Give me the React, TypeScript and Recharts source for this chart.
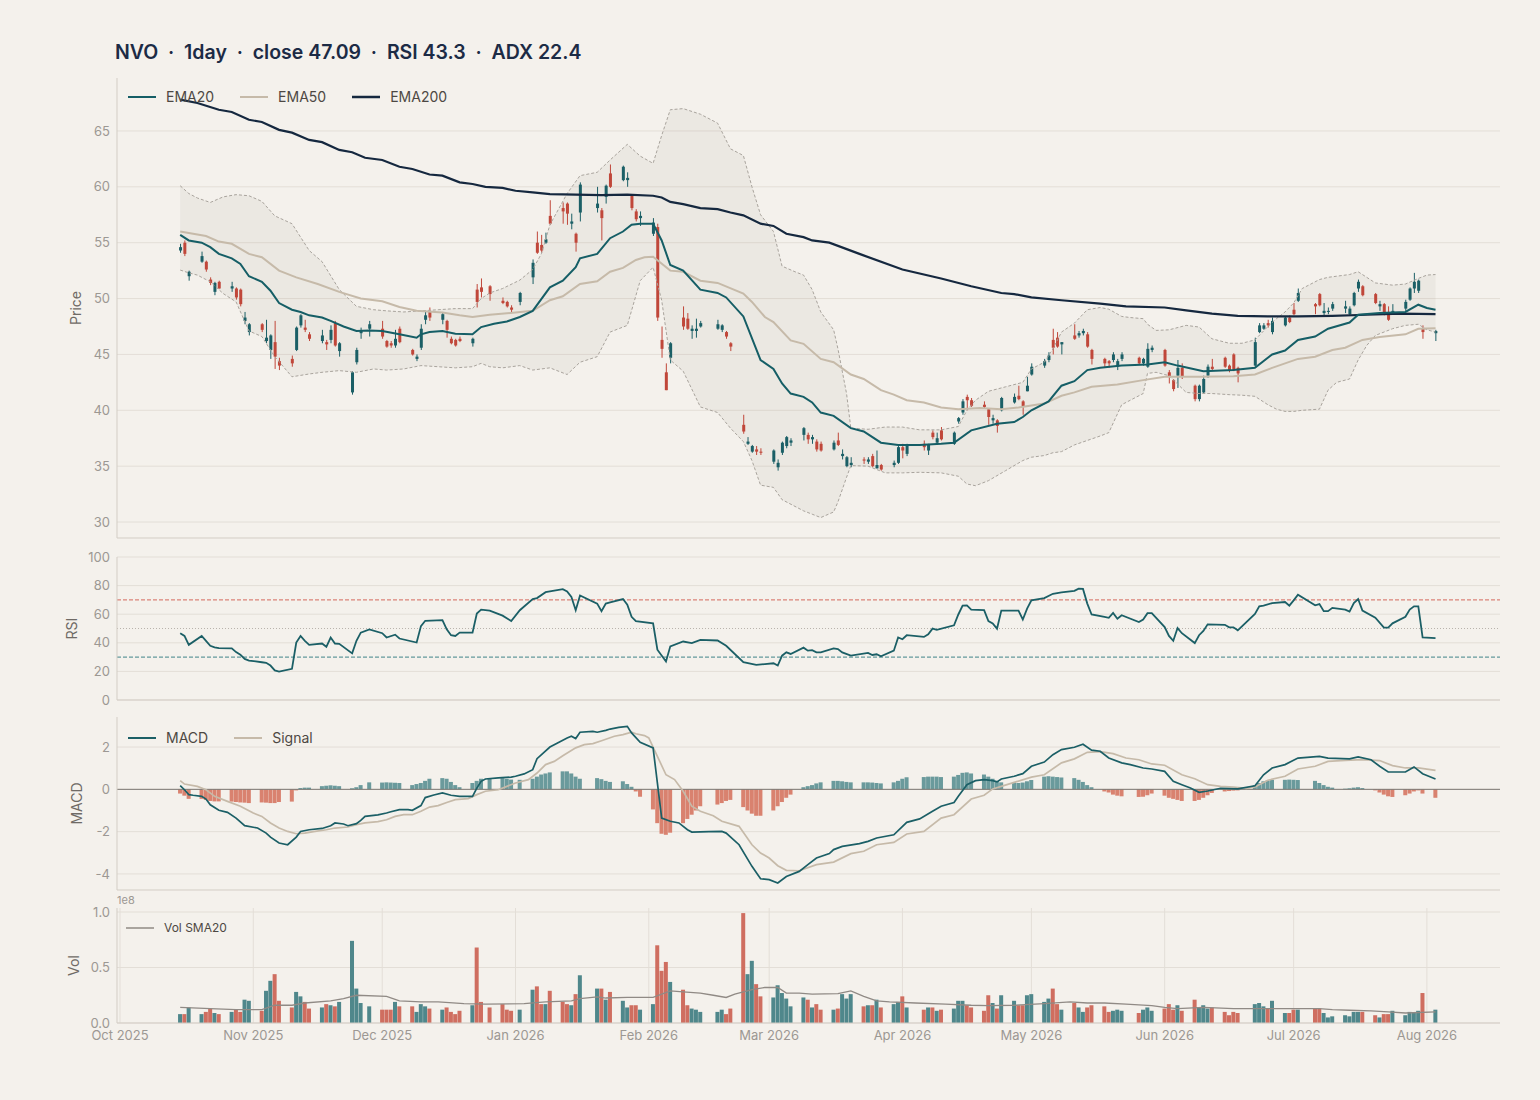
import React from "react";
import {
  ComposedChart,
  Bar,
  Line,
  Area,
  XAxis,
  YAxis,
  CartesianGrid,
  ReferenceLine,
} from "recharts";

// ---- colours ----
const BG = "#f4f1ec";
const GRID = "#e3ded7";
const SPINE = "#d3cdc5";
const TICK = "#9c9893";
const UP = "#1b5f66";
const DOWN = "#c0473a";
const EMA20_C = "#155e66";
const EMA50_C = "#c6baa9";
const EMA200_C = "#15283f";
const FONT = "Inter, 'DejaVu Sans', sans-serif";

// ---- time axis (days since 2025-10-01) ----
const BASE = Date.UTC(2025, 9, 1);
const dayOf = (s: string) =>
  Math.round((Date.UTC(+s.slice(0, 4), +s.slice(5, 7) - 1, +s.slice(8, 10)) - BASE) / 86400000);
const monthDates = [
  "2025-10-01", "2025-11-01", "2025-12-01", "2026-01-01", "2026-02-01", "2026-03-01",
  "2026-04-01", "2026-05-01", "2026-06-01", "2026-07-01", "2026-08-01",
];
const monthLabels = [
  "Oct 2025", "Nov 2025", "Dec 2025", "Jan 2026", "Feb 2026", "Mar 2026",
  "Apr 2026", "May 2026", "Jun 2026", "Jul 2026", "Aug 2026",
];
const monthDays = monthDates.map(dayOf);
const X_DOMAIN = [-0.7, 321];

// ---- y ticks ----
const priceTicks = [30, 35, 40, 45, 50, 55, 60, 65];
const rsiTicks = [0, 20, 40, 60, 80, 100];
const macdTicks = [-4, -2, 0, 2];
const volTicks = [0, 0.5, 1];

// ---- daily candles: date, open, high, low, close ----
const candles: [string, number, number, number, number][] = [
  ["2025-10-15", 54.3, 54.9, 54.1, 54.6], ["2025-10-16", 55.0, 55.2, 53.8, 54.0],
  ["2025-10-17", 52.0, 52.5, 51.6, 52.4], ["2025-10-20", 53.3, 54.2, 53.2, 53.8],
  ["2025-10-21", 53.3, 53.4, 52.4, 52.6], ["2025-10-22", 51.7, 51.9, 51.2, 51.4],
  ["2025-10-23", 50.6, 51.5, 50.3, 51.4], ["2025-10-24", 51.5, 51.6, 50.9, 50.9],
  ["2025-10-27", 50.9, 51.5, 50.6, 51.1], ["2025-10-28", 50.9, 51.0, 49.9, 50.1],
  ["2025-10-29", 50.8, 50.9, 49.3, 49.5], ["2025-10-30", 48.0, 48.8, 47.7, 48.3],
  ["2025-10-31", 47.0, 47.8, 46.7, 47.7], ["2025-11-03", 47.7, 47.8, 47.0, 47.2],
  ["2025-11-04", 46.2, 48.1, 46.0, 46.5], ["2025-11-05", 45.4, 46.8, 44.6, 46.7],
  ["2025-11-06", 46.1, 48.0, 43.7, 44.8], ["2025-11-07", 44.4, 44.7, 43.6, 44.0],
  ["2025-11-10", 44.6, 44.9, 43.9, 44.2], ["2025-11-11", 45.4, 47.5, 45.3, 47.4],
  ["2025-11-12", 47.6, 48.6, 47.4, 48.5], ["2025-11-13", 47.4, 48.1, 47.0, 47.2],
  ["2025-11-14", 46.8, 47.0, 46.2, 46.4], ["2025-11-17", 46.2, 47.2, 46.0, 46.7],
  ["2025-11-18", 46.1, 46.3, 45.4, 45.9], ["2025-11-19", 46.3, 47.6, 46.0, 47.2],
  ["2025-11-20", 47.8, 48.0, 45.7, 45.8], ["2025-11-21", 45.3, 46.1, 44.8, 46.0],
  ["2025-11-24", 41.6, 43.5, 41.4, 43.4], ["2025-11-25", 44.3, 45.6, 44.1, 45.4],
  ["2025-11-26", 46.9, 47.4, 46.4, 47.1], ["2025-11-28", 47.3, 48.0, 46.6, 47.7],
  ["2025-12-01", 47.3, 48.0, 46.4, 46.6], ["2025-12-02", 46.2, 46.3, 45.6, 45.7],
  ["2025-12-03", 46.0, 46.2, 45.6, 45.8], ["2025-12-04", 45.8, 47.2, 45.6, 46.4],
  ["2025-12-05", 47.3, 47.5, 46.0, 46.1], ["2025-12-08", 45.4, 45.5, 44.9, 45.0],
  ["2025-12-09", 44.6, 45.0, 44.4, 44.8], ["2025-12-10", 45.6, 47.7, 45.4, 47.3],
  ["2025-12-11", 48.1, 48.8, 47.7, 48.5], ["2025-12-12", 48.8, 49.2, 48.0, 48.3],
  ["2025-12-15", 48.1, 48.8, 47.7, 48.6], ["2025-12-16", 48.0, 48.1, 46.5, 47.2],
  ["2025-12-17", 46.4, 46.6, 45.9, 46.0], ["2025-12-18", 46.3, 46.4, 45.7, 45.8],
  ["2025-12-19", 46.4, 46.6, 46.1, 46.2], ["2025-12-22", 46.0, 46.5, 45.7, 46.4],
  ["2025-12-23", 50.8, 51.3, 49.2, 49.7], ["2025-12-24", 51.0, 51.8, 50.1, 50.6],
  ["2025-12-26", 51.1, 51.2, 49.8, 50.4], ["2025-12-29", 49.8, 50.1, 49.5, 49.6],
  ["2025-12-30", 49.7, 49.8, 49.2, 49.3], ["2025-12-31", 49.2, 49.4, 48.7, 49.0],
  ["2026-01-02", 49.7, 50.6, 49.4, 50.5], ["2026-01-05", 51.9, 53.5, 51.3, 53.2],
  ["2026-01-06", 55.0, 56.0, 54.0, 54.1], ["2026-01-07", 54.8, 55.7, 54.1, 54.3],
  ["2026-01-08", 55.0, 55.9, 54.9, 55.3], ["2026-01-09", 57.4, 58.8, 56.6, 56.7],
  ["2026-01-12", 58.1, 58.6, 56.7, 57.8], ["2026-01-13", 58.5, 58.6, 56.6, 57.6],
  ["2026-01-14", 56.7, 57.6, 56.2, 56.9], ["2026-01-15", 55.8, 55.9, 54.2, 55.0],
  ["2026-01-16", 57.7, 60.4, 56.9, 60.2], ["2026-01-20", 58.1, 60.0, 57.7, 58.5],
  ["2026-01-21", 57.9, 58.1, 55.2, 57.2], ["2026-01-22", 59.1, 60.2, 58.5, 60.1],
  ["2026-01-23", 61.2, 62.0, 59.9, 60.0], ["2026-01-26", 60.6, 61.9, 60.5, 61.8],
  ["2026-01-27", 60.6, 61.3, 60.0, 60.8], ["2026-01-28", 59.2, 59.3, 57.9, 58.1],
  ["2026-01-29", 57.8, 58.0, 56.9, 57.1], ["2026-01-30", 57.2, 57.8, 56.5, 57.4],
  ["2026-02-02", 55.8, 57.2, 55.6, 56.8], ["2026-02-03", 56.4, 56.7, 48.0, 48.3],
  ["2026-02-04", 46.3, 47.5, 44.7, 45.5], ["2026-02-05", 43.4, 44.2, 41.8, 41.8],
  ["2026-02-06", 44.7, 46.1, 44.2, 46.0], ["2026-02-09", 48.3, 49.3, 47.2, 47.5],
  ["2026-02-10", 48.2, 48.7, 47.2, 47.3], ["2026-02-11", 47.1, 47.6, 46.4, 47.3],
  ["2026-02-12", 47.1, 48.2, 46.5, 47.3], ["2026-02-13", 47.5, 48.0, 47.4, 47.8],
  ["2026-02-17", 47.3, 48.1, 47.2, 47.7], ["2026-02-18", 47.2, 47.7, 47.0, 47.6],
  ["2026-02-19", 47.0, 47.1, 46.4, 46.6], ["2026-02-20", 46.0, 46.1, 45.3, 45.7],
  ["2026-02-23", 38.7, 39.6, 37.9, 38.1], ["2026-02-24", 37.0, 37.6, 36.9, 37.2],
  ["2026-02-25", 36.3, 36.9, 36.2, 36.8], ["2026-02-26", 36.5, 36.8, 36.0, 36.3],
  ["2026-02-27", 36.3, 36.6, 36.0, 36.2], ["2026-03-02", 35.4, 36.5, 35.2, 36.4],
  ["2026-03-03", 34.9, 35.6, 34.6, 35.3], ["2026-03-04", 36.2, 37.2, 36.0, 37.1],
  ["2026-03-05", 36.8, 37.7, 36.6, 37.6], ["2026-03-06", 37.1, 37.5, 36.8, 37.3],
  ["2026-03-09", 37.8, 38.5, 37.3, 38.4], ["2026-03-10", 37.8, 38.0, 37.0, 37.4],
  ["2026-03-11", 37.4, 37.8, 37.0, 37.6], ["2026-03-12", 37.2, 37.4, 36.3, 36.5],
  ["2026-03-13", 37.0, 37.2, 36.3, 36.4], ["2026-03-16", 36.5, 37.3, 36.4, 37.1],
  ["2026-03-17", 37.3, 38.0, 36.8, 36.9], ["2026-03-18", 35.9, 36.5, 35.6, 36.1],
  ["2026-03-19", 35.0, 35.9, 34.9, 35.8], ["2026-03-20", 35.1, 35.8, 34.9, 35.3],
  ["2026-03-23", 35.6, 35.8, 35.2, 35.5], ["2026-03-24", 35.4, 35.8, 35.2, 35.6],
  ["2026-03-25", 35.9, 36.1, 34.9, 35.0], ["2026-03-26", 34.8, 36.4, 34.8, 35.1],
  ["2026-03-27", 35.1, 35.2, 34.6, 34.7], ["2026-03-30", 35.1, 35.5, 34.9, 35.3],
  ["2026-03-31", 35.3, 36.8, 35.2, 36.7], ["2026-04-01", 36.7, 37.0, 35.7, 36.4],
  ["2026-04-02", 36.1, 37.0, 35.9, 36.9], ["2026-04-06", 37.0, 37.3, 36.4, 36.7],
  ["2026-04-07", 36.4, 37.0, 36.0, 36.9], ["2026-04-08", 38.0, 38.2, 37.4, 37.6],
  ["2026-04-09", 37.1, 38.0, 36.9, 37.5], ["2026-04-10", 38.2, 38.5, 37.3, 37.4],
  ["2026-04-13", 37.0, 38.1, 36.9, 38.0], ["2026-04-14", 39.0, 39.4, 38.8, 39.3],
  ["2026-04-15", 39.8, 41.0, 39.6, 40.8], ["2026-04-16", 41.2, 41.4, 40.0, 40.9],
  ["2026-04-17", 40.9, 41.1, 40.3, 40.4], ["2026-04-20", 40.5, 40.8, 40.2, 40.3],
  ["2026-04-21", 40.1, 40.2, 38.7, 39.4], ["2026-04-22", 39.1, 39.6, 38.8, 39.3],
  ["2026-04-23", 39.1, 39.2, 38.0, 38.6], ["2026-04-24", 40.0, 41.2, 39.9, 41.1],
  ["2026-04-27", 40.7, 41.5, 40.6, 41.2], ["2026-04-28", 41.3, 42.2, 40.9, 41.0],
  ["2026-04-29", 40.8, 40.9, 39.6, 40.3], ["2026-04-30", 41.7, 43.0, 41.7, 42.2],
  ["2026-05-01", 43.2, 44.2, 43.1, 43.9], ["2026-05-04", 44.0, 44.6, 43.8, 44.4],
  ["2026-05-05", 44.5, 45.2, 44.3, 44.9], ["2026-05-06", 46.3, 47.3, 45.0, 45.6],
  ["2026-05-07", 46.5, 47.0, 45.6, 45.7], ["2026-05-08", 45.9, 46.1, 45.0, 46.1],
  ["2026-05-11", 46.7, 47.7, 46.3, 46.4], ["2026-05-12", 46.7, 47.1, 46.5, 46.9],
  ["2026-05-13", 46.9, 47.3, 46.7, 47.1], ["2026-05-14", 46.8, 47.0, 45.6, 45.7],
  ["2026-05-15", 45.4, 45.5, 44.1, 44.6], ["2026-05-18", 44.6, 44.7, 43.8, 44.2],
  ["2026-05-19", 44.4, 44.5, 43.8, 44.2], ["2026-05-20", 44.5, 45.2, 44.3, 45.0],
  ["2026-05-21", 43.9, 44.6, 43.6, 44.4], ["2026-05-22", 44.6, 45.2, 44.4, 45.0],
  ["2026-05-26", 44.7, 44.8, 44.1, 44.2], ["2026-05-27", 44.2, 44.7, 44.0, 44.6],
  ["2026-05-28", 43.9, 46.0, 43.8, 45.5], ["2026-05-29", 45.4, 45.8, 45.2, 45.6],
  ["2026-06-01", 45.4, 45.5, 43.9, 44.0], ["2026-06-02", 43.4, 43.6, 42.4, 43.0],
  ["2026-06-03", 42.7, 42.8, 41.7, 41.9], ["2026-06-04", 43.1, 44.5, 42.0, 43.8],
  ["2026-06-05", 43.8, 44.2, 42.8, 43.0], ["2026-06-08", 42.2, 42.3, 40.8, 41.0],
  ["2026-06-09", 41.0, 42.3, 40.8, 42.2], ["2026-06-10", 41.6, 43.1, 41.5, 42.8],
  ["2026-06-11", 43.1, 44.1, 42.9, 43.9], ["2026-06-12", 43.9, 44.6, 43.6, 43.7],
  ["2026-06-15", 44.7, 44.8, 43.8, 43.9], ["2026-06-16", 44.0, 44.1, 43.4, 43.6],
  ["2026-06-17", 45.0, 45.1, 43.5, 43.6], ["2026-06-18", 43.8, 43.9, 42.5, 43.3],
  ["2026-06-22", 44.0, 46.5, 43.9, 46.1], ["2026-06-23", 47.0, 47.8, 46.9, 47.6],
  ["2026-06-24", 47.3, 47.8, 47.2, 47.6], ["2026-06-25", 47.8, 48.1, 47.4, 47.6],
  ["2026-06-26", 47.0, 48.3, 46.8, 48.0], ["2026-06-29", 47.6, 48.4, 47.5, 48.3],
  ["2026-06-30", 48.3, 48.5, 47.8, 47.9], ["2026-07-01", 49.0, 49.6, 48.5, 48.6],
  ["2026-07-02", 49.8, 50.9, 49.7, 50.5], ["2026-07-06", 49.5, 49.6, 48.6, 49.3],
  ["2026-07-07", 50.4, 50.5, 49.3, 49.4], ["2026-07-08", 48.7, 49.6, 48.4, 48.9],
  ["2026-07-09", 48.8, 49.2, 48.6, 48.9], ["2026-07-10", 49.1, 49.7, 48.9, 49.5],
  ["2026-07-13", 49.1, 49.8, 48.7, 49.3], ["2026-07-14", 48.6, 49.3, 48.5, 49.1],
  ["2026-07-15", 49.4, 50.6, 49.3, 50.5], ["2026-07-16", 50.9, 51.7, 50.6, 51.5],
  ["2026-07-17", 51.1, 51.2, 50.2, 50.3], ["2026-07-20", 50.4, 50.5, 49.5, 49.6],
  ["2026-07-21", 49.3, 49.8, 48.9, 49.5], ["2026-07-22", 49.5, 49.6, 48.5, 48.7],
  ["2026-07-23", 48.7, 49.3, 48.0, 48.1], ["2026-07-24", 48.7, 49.5, 48.6, 48.9],
  ["2026-07-27", 49.1, 49.9, 48.9, 49.7], ["2026-07-28", 49.9, 51.0, 49.8, 50.9],
  ["2026-07-29", 50.9, 52.3, 50.5, 51.5], ["2026-07-30", 50.7, 51.7, 50.5, 51.6],
  ["2026-07-31", 47.3, 47.6, 46.4, 47.0], ["2026-08-03", 46.9, 47.2, 46.2, 47.09],
];

// volume per candle (units of 1e8)
const volumes = [
  0.08, 0.08, 0.14, 0.08, 0.10, 0.13, 0.09, 0.08, 0.10, 0.12, 0.10, 0.21, 0.20,
  0.11, 0.29, 0.38, 0.44, 0.20, 0.14, 0.28, 0.24, 0.19, 0.13, 0.14, 0.17, 0.16,
  0.15, 0.19, 0.74, 0.31, 0.18, 0.15, 0.12, 0.12, 0.12, 0.19, 0.15, 0.15, 0.10,
  0.17, 0.15, 0.13, 0.12, 0.14, 0.10, 0.08, 0.11, 0.16, 0.68, 0.19, 0.14, 0.17,
  0.12, 0.11, 0.12, 0.30, 0.33, 0.17, 0.17, 0.29, 0.19, 0.17, 0.16, 0.26, 0.43,
  0.31, 0.31, 0.21, 0.28, 0.20, 0.14, 0.16, 0.16, 0.12, 0.17, 0.70, 0.47, 0.55,
  0.37, 0.30, 0.16, 0.13, 0.12, 0.10, 0.10, 0.12, 0.08, 0.13, 0.99, 0.44, 0.56,
  0.35, 0.24, 0.23, 0.34, 0.27, 0.22, 0.15, 0.23, 0.21, 0.14, 0.17, 0.12, 0.12,
  0.13, 0.26, 0.22, 0.26, 0.15, 0.16, 0.16, 0.21, 0.14, 0.17, 0.19, 0.24, 0.14,
  0.12, 0.14, 0.14, 0.11, 0.12, 0.13, 0.20, 0.20, 0.16, 0.14, 0.11, 0.25, 0.18,
  0.13, 0.25, 0.20, 0.16, 0.16, 0.25, 0.26, 0.19, 0.22, 0.31, 0.17, 0.12, 0.18,
  0.14, 0.10, 0.14, 0.16, 0.15, 0.10, 0.11, 0.12, 0.11, 0.09, 0.12, 0.14, 0.11,
  0.13, 0.17, 0.12, 0.16, 0.11, 0.21, 0.14, 0.16, 0.13, 0.14, 0.10, 0.07, 0.10,
  0.09, 0.17, 0.18, 0.15, 0.13, 0.20, 0.09, 0.09, 0.12, 0.12, 0.13, 0.13, 0.09,
  0.05, 0.06, 0.07, 0.06, 0.10, 0.10, 0.10, 0.07, 0.05, 0.08, 0.08, 0.11, 0.07,
  0.10, 0.09, 0.11, 0.27, 0.12,
];

// MACD histogram per candle
const macdHist = [
  -0.2, -0.3, -0.45, -0.45, -0.5, -0.55, -0.57, -0.57, -0.58, -0.6, -0.62, -0.63,
  -0.65, -0.62, -0.63, -0.65, -0.65, -0.6, -0.58, -0.05, 0.06, 0.08, 0.08, 0.15,
  0.17, 0.19, 0.17, 0.15, 0.05, 0.1, 0.2, 0.33, 0.32, 0.33, 0.32, 0.31, 0.3, 0.2,
  0.25, 0.3, 0.4, 0.5, 0.53, 0.5, 0.35, 0.2, 0.1, 0.3, 0.4, 0.5, 0.5, 0.53, 0.5,
  0.46, 0.45, 0.5, 0.6, 0.7, 0.75, 0.8, 0.85, 0.85, 0.75, 0.6, 0.5, 0.53, 0.48,
  0.4, 0.35, 0.38, 0.25, 0.12, -0.1, -0.35, -0.95, -1.6, -2.1, -2.15, -2.05, -1.6,
  -1.4, -1.2, -1.0, -0.8, -0.72, -0.65, -0.55, -0.5, -0.84, -1.0, -1.15, -1.25,
  -1.25, -1.0, -0.8, -0.6, -0.4, -0.25, 0.1, 0.15, 0.2, 0.28, 0.33, 0.4, 0.4,
  0.38, 0.35, 0.33, 0.33, 0.33, 0.32, 0.3, 0.28, 0.33, 0.4, 0.5, 0.57, 0.58, 0.6,
  0.6, 0.6, 0.58, 0.6, 0.68, 0.78, 0.8, 0.75, 0.7, 0.6, 0.5, 0.4, 0.33, 0.33, 0.3,
  0.32, 0.38, 0.44, 0.6, 0.62, 0.6, 0.58, 0.56, 0.53, 0.45, 0.35, 0.2, 0.1, -0.1,
  -0.15, -0.25, -0.3, -0.33, -0.36, -0.35, -0.28, -0.2, -0.3, -0.4, -0.45, -0.5,
  -0.55, -0.55, -0.5, -0.4, -0.28, -0.17, -0.1, -0.08, -0.06, -0.05, 0.2, 0.3,
  0.38, 0.42, 0.45, 0.45, 0.46, 0.45, 0.44, 0.4, 0.3, 0.2, 0.12, 0.08, 0.03, 0.05,
  0.08, 0.1, 0.06, -0.05, -0.15, -0.25, -0.33, -0.36, -0.28, -0.2, -0.1, -0.05,
  -0.2, -0.4,
];

// indicator lines: [days since 2025-10-01, value]
const ema20Pts = [
  [14, 55.7], [16, 55.2], [19, 55.0], [21, 54.6], [23, 54.0], [26, 53.6], [28, 53.1],
  [30, 52.0], [33, 51.5], [35, 50.7], [37, 49.6], [40, 49.0], [42, 48.8], [44, 48.5],
  [47, 48.3], [49, 48.0], [52, 47.5], [55, 47.1], [58, 47.15], [61, 47.1], [65, 46.8],
  [69, 46.5], [70, 46.8], [72, 47.0], [75, 47.1], [78, 46.85], [82, 46.8], [84, 47.45],
  [87, 47.75], [90, 47.95], [93, 48.35], [96, 48.9], [100, 51.0], [103, 51.6],
  [106, 52.8], [107, 53.6], [111, 54.0], [114, 55.4], [117, 56.0], [119, 56.6],
  [121, 56.7], [124, 56.7], [126, 55.2], [128, 53.0], [131, 52.5], [135, 50.8],
  [139, 50.5], [141, 50.1], [145, 48.4], [149, 44.5], [152, 43.7], [154, 42.4],
  [156, 41.5], [159, 41.2], [161, 40.7], [163, 39.8], [166, 39.5], [170, 38.4],
  [173, 38.1], [177, 37.1], [181, 36.9], [186, 36.9], [191, 37.0], [194, 37.1],
  [198, 38.2], [204, 38.8], [208, 38.95], [210, 39.4], [212, 40.0], [216, 40.8],
  [219, 42.2], [222, 42.6], [225, 43.6], [228, 43.8], [233, 44.0], [239, 44.1],
  [243, 44.3], [246, 44.0], [252, 43.5], [259, 43.6], [264, 43.8], [268, 45.0],
  [271, 45.35], [274, 46.3], [278, 46.6], [281, 47.3], [286, 47.85], [288, 48.55],
  [293, 48.7], [299, 48.8], [302, 49.45], [304, 49.15], [306, 49.0],
];
const ema50Pts = [
  [14, 56.0], [17, 55.8], [20, 55.6], [23, 55.1], [26, 54.9], [30, 54.0], [33, 53.7],
  [37, 52.5], [41, 51.9], [46, 51.3], [51, 50.6], [56, 50.0], [61, 49.75], [65, 49.25],
  [69, 48.9], [75, 48.75], [79, 48.5], [82, 48.35], [86, 48.55], [92, 48.75], [96, 48.9],
  [100, 49.85], [103, 50.2], [107, 51.3], [111, 51.55], [114, 52.4], [117, 52.75],
  [120, 53.45], [122, 53.7], [124, 53.75], [128, 52.5], [131, 52.4], [135, 51.6],
  [139, 51.4], [145, 50.45], [147, 49.7], [150, 48.35], [152, 47.9], [156, 46.25],
  [159, 45.95], [163, 44.6], [166, 44.3], [170, 43.2], [173, 42.8], [177, 41.8],
  [180, 41.4], [183, 40.9], [187, 40.7], [191, 40.25], [195, 40.1], [200, 40.2],
  [205, 40.1], [209, 40.25], [215, 40.6], [219, 41.3], [222, 41.6], [226, 42.1],
  [232, 42.3], [238, 42.7], [243, 43.0], [251, 43.0], [259, 43.05], [264, 43.2],
  [268, 43.8], [274, 44.6], [278, 44.8], [282, 45.4], [285, 45.6], [289, 46.3],
  [293, 46.55], [299, 46.8], [302, 47.3], [306, 47.35],
];
const ema200Pts = [
  [14, 67.8], [18, 67.5], [23, 66.9], [26, 66.7], [30, 66.0], [33, 65.8], [37, 65.1],
  [40, 64.85], [44, 64.2], [47, 64.0], [51, 63.3], [54, 63.1], [57, 62.6], [61, 62.4],
  [65, 61.8], [68, 61.6], [72, 61.1], [75, 61.0], [79, 60.4], [82, 60.25], [85, 60.0],
  [89, 59.9], [92, 59.65], [96, 59.5], [100, 59.35], [106, 59.3], [112, 59.25],
  [118, 59.3], [124, 59.2], [126, 59.05], [128, 58.65], [131, 58.45], [135, 58.1],
  [139, 58.0], [142, 57.7], [145, 57.45], [149, 56.7], [152, 56.5], [155, 55.8],
  [159, 55.5], [161, 55.2], [165, 55.0], [172, 54.0], [182, 52.6], [191, 51.8],
  [198, 51.1], [205, 50.5], [208, 50.4], [212, 50.1], [219, 49.85], [228, 49.55],
  [234, 49.3], [243, 49.2], [248, 48.95], [254, 48.65], [260, 48.45], [267, 48.4],
  [274, 48.4], [282, 48.45], [290, 48.55], [298, 48.65], [306, 48.6],
];
// Bollinger band: [day, upper, lower]
const bbPts = [
  [14, 60.1, 52.55], [16, 59.4, 52.3], [18, 59.0, 52.1], [21, 58.6, 51.5], [24, 59.1, 50.45],
  [27, 59.3, 49.7], [30, 59.2, 47.1], [33, 58.7, 46.6], [36, 57.4, 44.8], [40, 56.7, 43.0],
  [44, 54.3, 43.25], [47, 53.3, 43.4], [51, 50.8, 43.55], [55, 49.3, 43.4], [59, 49.0, 43.7],
  [62, 48.9, 43.6], [66, 48.8, 43.7], [70, 48.9, 44.0], [74, 49.0, 43.9], [78, 49.1, 43.8],
  [82, 49.1, 43.9], [84, 50.0, 44.2], [86, 50.5, 43.9], [89, 50.9, 43.8], [93, 51.65, 44.0],
  [96, 52.6, 43.6], [98, 54.0, 43.7], [100, 56.6, 43.8], [104, 59.4, 43.2], [107, 61.0, 44.3],
  [111, 61.3, 44.8], [114, 62.4, 47.0], [118, 63.8, 47.6], [121, 62.75, 51.6], [124, 62.1, 52.8],
  [126, 64.6, 49.85], [128, 66.9, 44.5], [131, 67.0, 43.5], [135, 66.5, 40.3], [139, 65.7, 39.8],
  [142, 63.4, 38.4], [145, 62.8, 37.2], [147, 60.0, 35.5], [149, 57.5, 33.3], [152, 56.0, 33.1],
  [154, 52.9, 32.0], [157, 52.4, 31.4], [159, 52.1, 31.0], [161, 50.8, 30.7], [163, 48.8, 30.4],
  [166, 47.2, 30.9], [167, 45.5, 31.8], [169, 41.5, 34.0], [170, 38.4, 35.05], [174, 38.3, 35.0],
  [178, 38.5, 34.4], [182, 38.5, 34.4], [186, 38.25, 34.45], [191, 38.25, 34.4], [195, 38.55, 34.1],
  [197, 40.0, 33.4], [199, 40.9, 33.25], [202, 41.7, 33.7], [206, 42.1, 34.6], [210, 42.5, 35.5],
  [212, 43.7, 35.8], [215, 44.3, 35.95], [217, 45.5, 36.2], [219, 47.0, 36.3], [222, 47.8, 36.9],
  [225, 49.0, 37.3], [228, 49.2, 37.7], [230, 49.05, 38.0], [233, 48.4, 40.5], [235, 48.3, 40.9],
  [238, 48.2, 41.5], [239, 47.7, 43.3], [241, 47.15, 43.4], [244, 47.2, 43.1], [248, 47.6, 41.6],
  [251, 47.45, 41.5], [254, 46.4, 41.5], [258, 46.0, 41.4], [261, 46.0, 41.35], [264, 46.3, 41.25],
  [267, 47.5, 40.5], [269, 48.2, 40.1], [271, 48.8, 39.9], [273, 49.6, 39.9], [275, 50.9, 40.0],
  [279, 51.7, 40.1], [281, 51.9, 41.8], [283, 52.0, 42.5], [286, 52.15, 42.8], [288, 52.4, 44.5],
  [290, 51.9, 45.8], [292, 51.4, 46.7], [296, 51.2, 47.3], [299, 51.3, 47.6], [302, 51.8, 47.7],
  [304, 52.1, 47.2], [306, 52.15, 47.0],
];
const rsiPts = [
  [14, 46.7], [15, 44.8], [16, 38.6], [19, 44.8], [20, 41.4], [21, 37.9], [22, 36.8], [23, 36.3],
  [26, 36.1], [27, 33.5], [28, 31.7], [29, 28.7], [30, 27.6], [33, 26.4], [34, 26.0], [35, 24.1],
  [36, 20.7], [37, 19.8], [40, 21.8], [41, 40.2], [42, 44.8], [43, 41.4], [44, 38.6], [47, 39.5],
  [48, 37.2], [49, 43.7], [50, 39.5], [51, 39.3], [54, 32.6], [55, 41.4], [56, 47.1], [58, 49.4],
  [61, 46.7], [62, 43.7], [64, 45.7], [65, 43.0], [69, 40.2], [70, 51.7], [71, 55.4], [75, 55.9],
  [76, 49.4], [77, 45.3], [78, 44.8], [79, 47.1], [82, 47.1], [83, 60.5], [84, 63.2], [86, 62.5],
  [89, 59.0], [91, 55.2], [93, 62.8], [96, 70.6], [97, 71.3], [99, 75.4], [103, 77.5], [104, 75.9],
  [105, 72.0], [106, 62.8], [107, 73.1], [111, 67.4], [112, 62.1], [113, 67.4], [114, 68.3],
  [117, 70.6], [118, 66.7], [119, 58.2], [120, 55.2], [124, 53.6], [125, 35.2], [127, 26.9],
  [128, 37.5], [131, 40.9], [133, 39.8], [135, 42.1], [139, 41.6], [141, 37.9], [145, 26.4],
  [148, 24.6], [150, 25.1], [152, 25.7], [153, 24.1], [154, 31.0], [155, 33.3], [156, 32.2],
  [159, 36.6], [160, 34.5], [161, 34.9], [162, 33.3], [163, 33.3], [166, 36.1], [167, 35.6],
  [168, 33.3], [170, 31.0], [174, 32.9], [175, 31.5], [176, 32.0], [177, 30.6], [180, 34.5],
  [181, 43.7], [182, 42.5], [183, 45.3], [187, 44.1], [188, 46.0], [189, 49.9], [190, 49.0],
  [194, 52.2], [195, 59.8], [196, 66.0], [197, 66.2], [198, 63.2], [201, 62.8], [202, 55.2],
  [203, 53.6], [204, 49.9], [205, 62.5], [209, 62.5], [210, 56.3], [211, 63.9], [212, 69.7],
  [215, 71.3], [217, 74.3], [219, 75.2], [222, 76.3], [223, 77.9], [224, 77.7], [225, 67.4],
  [226, 59.8], [229, 58.2], [230, 57.5], [231, 60.9], [232, 56.8], [233, 59.3], [237, 54.5],
  [238, 56.3], [239, 60.7], [240, 60.7], [243, 51.0], [244, 44.8], [245, 41.4], [246, 50.3],
  [247, 46.7], [250, 39.8], [251, 45.3], [252, 48.3], [253, 52.9], [257, 52.6], [258, 50.8],
  [259, 50.8], [260, 48.7], [264, 60.2], [265, 65.5], [266, 66.0], [268, 67.8], [271, 68.5],
  [272, 66.0], [273, 69.7], [274, 73.6], [278, 66.2], [279, 67.1], [280, 62.1], [281, 62.1],
  [282, 64.4], [285, 63.2], [286, 61.8], [287, 67.8], [288, 70.6], [289, 62.5], [292, 57.5],
  [294, 50.6], [295, 50.6], [296, 53.6], [299, 58.2], [300, 63.2], [301, 65.5], [302, 65.5],
  [303, 43.7], [306, 43.3],
];
const macdPts = [
  [14, 0.17], [15, -0.02], [16, -0.25], [17, -0.28], [19, -0.33], [20, -0.46], [21, -0.73],
  [23, -0.99], [25, -1.09], [27, -1.36], [29, -1.72], [32, -1.83], [34, -2.07], [35, -2.26],
  [37, -2.54], [39, -2.62], [41, -2.26], [42, -1.99], [44, -1.91], [47, -1.85], [49, -1.72],
  [50, -1.59], [52, -1.64], [53, -1.72], [55, -1.62], [56, -1.47], [57, -1.28], [60, -1.21],
  [62, -1.12], [63, -1.06], [65, -0.96], [67, -0.96], [68, -0.99], [70, -0.77], [71, -0.39],
  [73, -0.27], [75, -0.17], [77, -0.28], [79, -0.33], [82, -0.33], [83, 0.06], [84, 0.38],
  [85, 0.49], [88, 0.54], [91, 0.58], [92, 0.62], [94, 0.73], [96, 0.93], [97, 1.45], [100, 2.0],
  [102, 2.22], [104, 2.43], [105, 2.51], [106, 2.4], [107, 2.7], [110, 2.74], [111, 2.7],
  [113, 2.79], [114, 2.85], [116, 2.93], [118, 2.98], [119, 2.67], [121, 2.22], [124, 1.96],
  [126, -1.36], [128, -1.51], [130, -1.59], [132, -1.91], [133, -2.02], [137, -2.0], [140, -1.99],
  [141, -2.07], [144, -2.62], [147, -3.64], [149, -4.23], [151, -4.27], [153, -4.43],
  [155, -4.12], [158, -3.88], [160, -3.56], [162, -3.25], [165, -3.04], [166, -2.85],
  [168, -2.7], [172, -2.57], [174, -2.46], [176, -2.3], [180, -2.15], [183, -1.56], [186, -1.4],
  [189, -1.04], [191, -0.8], [194, -0.62], [195, -0.33], [197, 0.22], [199, 0.41], [201, 0.46],
  [203, 0.41], [204, 0.35], [205, 0.49], [208, 0.62], [210, 0.74], [212, 1.09], [215, 1.29],
  [217, 1.64], [219, 1.88], [222, 1.99], [224, 2.13], [226, 1.85], [228, 1.8], [230, 1.48],
  [233, 1.25], [235, 1.17], [238, 1.01], [240, 0.96], [243, 0.85], [245, 0.38], [247, 0.22],
  [249, 0.06], [251, -0.14], [253, -0.08], [256, 0.05], [260, 0.02], [264, 0.17], [266, 0.69],
  [268, 1.01], [271, 1.17], [274, 1.48], [279, 1.56], [281, 1.48], [286, 1.44], [288, 1.53],
  [291, 1.4], [293, 1.09], [295, 0.82], [299, 0.82], [301, 1.06], [303, 0.74], [306, 0.49],
];
const signalPts = [
  [14, 0.41], [15, 0.25], [18, 0.14], [20, -0.02], [22, -0.33], [25, -0.57], [28, -0.8],
  [31, -1.12], [33, -1.28], [35, -1.59], [37, -1.83], [39, -1.99], [41, -2.1], [43, -2.07],
  [45, -2.0], [48, -1.91], [50, -1.83], [53, -1.78], [55, -1.67], [57, -1.59], [60, -1.53],
  [62, -1.44], [64, -1.28], [66, -1.2], [68, -1.2], [70, -1.04], [72, -0.84], [74, -0.77],
  [76, -0.62], [78, -0.49], [81, -0.44], [83, -0.25], [85, -0.09], [88, -0.02], [90, 0.14],
  [92, 0.3], [95, 0.46], [97, 0.77], [99, 1.17], [101, 1.32], [103, 1.59], [106, 1.96],
  [108, 2.11], [110, 2.16], [112, 2.3], [115, 2.51], [117, 2.59], [119, 2.7], [120, 2.63],
  [122, 2.54], [123, 2.43], [125, 1.56], [127, 0.69], [129, 0.46], [131, -0.09], [133, -0.8],
  [135, -1.04], [138, -1.25], [140, -1.51], [144, -1.75], [147, -2.62], [149, -3.01],
  [151, -3.25], [153, -3.61], [155, -3.83], [158, -3.85], [162, -3.56], [166, -3.44],
  [170, -3.04], [173, -2.93], [176, -2.62], [180, -2.51], [183, -2.11], [187, -1.99],
  [191, -1.36], [194, -1.2], [198, -0.46], [201, -0.28], [203, 0.02], [205, 0.14], [208, 0.33],
  [212, 0.58], [215, 0.69], [219, 1.25], [222, 1.44], [225, 1.75], [228, 1.78], [231, 1.69],
  [234, 1.48], [237, 1.4], [240, 1.2], [243, 1.14], [247, 0.69], [250, 0.5], [253, 0.22],
  [256, 0.14], [259, 0.11], [262, 0.05], [264, 0.11], [267, 0.43], [271, 0.62], [274, 0.96],
  [278, 1.09], [281, 1.32], [285, 1.37], [289, 1.4], [293, 1.36], [296, 1.12], [299, 1.01],
  [302, 1.01], [306, 0.9],
];
const volSmaPts = [
  [14, 0.14], [21, 0.13], [27, 0.12], [33, 0.12], [36, 0.16], [40, 0.16], [43, 0.18], [49, 0.2],
  [52, 0.22], [55, 0.25], [62, 0.24], [65, 0.2], [70, 0.19], [74, 0.19], [80, 0.175], [85, 0.17],
  [94, 0.175], [99, 0.19], [105, 0.2], [107, 0.22], [111, 0.235], [113, 0.225], [118, 0.23],
  [124, 0.23], [126, 0.26], [128, 0.29], [131, 0.28], [135, 0.27], [138, 0.25], [141, 0.23],
  [143, 0.26], [147, 0.3], [150, 0.32], [153, 0.32], [155, 0.27], [158, 0.27], [161, 0.26],
  [167, 0.265], [170, 0.29], [173, 0.24], [176, 0.2], [179, 0.19], [185, 0.18], [192, 0.17],
  [198, 0.16], [202, 0.157], [208, 0.16], [215, 0.175], [221, 0.19], [225, 0.18], [229, 0.18],
  [234, 0.17], [240, 0.157], [243, 0.14], [246, 0.13], [252, 0.14], [259, 0.13], [264, 0.13],
  [270, 0.13], [279, 0.13], [282, 0.12], [286, 0.115], [291, 0.11], [295, 0.1], [299, 0.09],
  [306, 0.1],
];

// ---- merge series into rows keyed by day ----
function mergeRows(parts: Record<string, any>[][]) {
  const map = new Map<number, any>();
  parts.forEach((list) =>
    list.forEach((r) => {
      const row = map.get(r.t) || { t: r.t };
      Object.assign(row, r);
      map.set(r.t, row);
    })
  );
  return Array.from(map.values()).sort((a, b) => a.t - b.t);
}
const pts = (list: number[][], key: string) => list.map(([t, v]) => ({ t, [key]: v }));

const candleRows = candles.map(([d, o, h, l, c], i) => ({
  t: dayOf(d), o, h, l, c, range: [l, h], up: c >= o, v: volumes[i], hist: macdHist[i],
}));

const priceRows = mergeRows([
  candleRows.map(({ t, o, h, l, c, range }) => ({ t, o, h, l, c, range })),
  pts(ema20Pts, "ema20"),
  pts(ema50Pts, "ema50"),
  pts(ema200Pts, "ema200"),
  bbPts.map(([t, u, l]) => ({ t, bbU: u, bbL: l, bb: [l, u] })),
]);
const rsiRows = pts(rsiPts, "rsi");
const macdRows = mergeRows([
  candleRows.map(({ t, hist }) => ({ t, hist })),
  pts(macdPts, "macd"),
  pts(signalPts, "signal"),
]);
const volRows = mergeRows([
  candleRows.map(({ t, v, up }) => ({ t, v, up })),
  pts(volSmaPts, "vsma"),
]);

// ---- shapes ----
const Candle = (props: any) => {
  const { x, y, width, height, payload } = props;
  if (!payload || payload.o == null || !isFinite(y)) return null;
  const { o, h, l, c } = payload;
  const color = c >= o ? UP : DOWN;
  const top = height < 0 ? y + height : y;
  const hh = Math.abs(height);
  const k = hh / (h - l || 1);
  const yo = top + (h - o) * k;
  const yc = top + (h - c) * k;
  const cx = x + width / 2;
  return (
    <g>
      <line x1={cx} x2={cx} y1={top} y2={top + hh} stroke={color} strokeWidth={1} />
      <rect x={x} y={Math.min(yo, yc)} width={width} height={Math.max(1, Math.abs(yc - yo))} fill={color} />
    </g>
  );
};

const HistBar = (props: any) => {
  const { x, y, width, height, payload } = props;
  if (!payload || payload.hist == null) return null;
  const top = height < 0 ? y + height : y;
  return <rect x={x} y={top} width={width} height={Math.abs(height)} fill={payload.hist >= 0 ? "#6a9a9c" : "#d9826f"} />;
};

const VolBar = (props: any) => {
  const { x, y, width, height, payload } = props;
  if (!payload || payload.v == null) return null;
  const top = height < 0 ? y + height : y;
  return <rect x={x} y={top} width={width} height={Math.abs(height)} fill={payload.up ? "#4f878b" : "#cf6e60"} />;
};

// ---- shared axis pieces ----
const tickStyle = { fill: TICK, fontSize: 13, fontFamily: FONT };
const axisTitle = (value: string, offset: number) => ({
  value,
  angle: -90,
  position: "insideLeft" as const,
  offset,
  fill: "#6f6a65",
  fontSize: 14,
  fontFamily: FONT,
  style: { textAnchor: "middle" },
});

function HiddenX() {
  return (
    <XAxis
      type="number"
      dataKey="t"
      domain={X_DOMAIN}
      ticks={monthDays}
      allowDataOverflow
      height={8}
      tick={false}
      tickLine={false}
      axisLine={{ stroke: SPINE }}
    />
  );
}

function Grid(yTicks: number[]) {
  return (
    <CartesianGrid
      stroke={GRID}
      strokeWidth={1}
      horizontalValues={yTicks}
      verticalValues={monthDays}
      syncWithTicks
    />
  );
}

function LegendItem({ color, label, width = 2, size = 14, gap = 26 }: any) {
  return (
    <span style={{ display: "inline-flex", alignItems: "center", marginRight: gap }}>
      <svg width={28} height={10} style={{ marginRight: 10 }}>
        <line x1={0} x2={28} y1={5} y2={5} stroke={color} strokeWidth={width} />
      </svg>
      <span style={{ fontSize: size, color: "#4d4843" }}>{label}</span>
    </span>
  );
}

const W = 1540;
// every panel: 10px above the plot area, hidden x axis 8px below it
const MARGIN = { top: 10, right: 40, left: 0, bottom: 0 };
const yAxisBase = {
  width: 117,
  allowDataOverflow: true,
  interval: 0 as const,
  tickSize: 0,
  tickMargin: 7,
  tickLine: false,
  axisLine: { stroke: SPINE },
  tick: tickStyle,
};

export default function App() {
  return (
    <div style={{ position: "relative", width: W, height: 1100, background: BG, fontFamily: FONT, overflow: "hidden" }}>
      <style>{`body{margin:0;background:${BG}}`}</style>

      <div style={{ position: "absolute", left: 115, top: 40, fontSize: 19.5, fontWeight: 600, color: "#1c2b45", whiteSpace: "pre" }}>
        NVO  ·  1day  ·  close 47.09  ·  RSI 43.3  ·  ADX 22.4
      </div>

      {/* price panel: plot 78..538 */}
      <div style={{ position: "absolute", left: 0, top: 68 }}>
        <ComposedChart width={W} height={478} data={priceRows} margin={MARGIN}>
          {Grid(priceTicks)}
          {HiddenX()}
          <YAxis {...yAxisBase} domain={[28.57, 69.74]} ticks={priceTicks} label={axisTitle("Price", 76)} />
          <Area dataKey="bb" stroke="none" fill="#8c8070" fillOpacity={0.08} connectNulls isAnimationActive={false} />
          <Line dataKey="bbU" stroke="#a9a49d" strokeWidth={1} strokeDasharray="3 2" dot={false} connectNulls isAnimationActive={false} />
          <Line dataKey="bbL" stroke="#a9a49d" strokeWidth={1} strokeDasharray="3 2" dot={false} connectNulls isAnimationActive={false} />
          <Line dataKey="ema200" stroke={EMA200_C} strokeWidth={2.2} dot={false} connectNulls isAnimationActive={false} />
          <Line dataKey="ema50" stroke={EMA50_C} strokeWidth={2} dot={false} connectNulls isAnimationActive={false} />
          <Line dataKey="ema20" stroke={EMA20_C} strokeWidth={2} dot={false} connectNulls isAnimationActive={false} />
          <Bar dataKey="range" barSize={3} shape={Candle} isAnimationActive={false} />
        </ComposedChart>
      </div>
      <div style={{ position: "absolute", left: 128, top: 88, display: "flex" }}>
        <LegendItem color={EMA20_C} label="EMA20" />
        <LegendItem color={EMA50_C} label="EMA50" />
        <LegendItem color={EMA200_C} label="EMA200" width={2.5} />
      </div>

      {/* RSI panel: plot 557..700 */}
      <div style={{ position: "absolute", left: 0, top: 547 }}>
        <ComposedChart width={W} height={161} data={rsiRows} margin={MARGIN}>
          {Grid(rsiTicks)}
          {HiddenX()}
          <YAxis {...yAxisBase} domain={[0, 100]} ticks={rsiTicks} label={axisTitle("RSI", 72)} />
          <ReferenceLine y={70} stroke="#d4695d" strokeDasharray="4 2" strokeWidth={1} />
          <ReferenceLine y={50} stroke="#b9b3ac" strokeDasharray="1 2" strokeWidth={1} />
          <ReferenceLine y={30} stroke="#3e8489" strokeDasharray="4 2" strokeWidth={1} />
          <Line dataKey="rsi" stroke={UP} strokeWidth={1.8} dot={false} isAnimationActive={false} />
        </ComposedChart>
      </div>

      {/* MACD panel: plot 717..890 */}
      <div style={{ position: "absolute", left: 0, top: 707 }}>
        <ComposedChart width={W} height={191} data={macdRows} margin={MARGIN}>
          {Grid(macdTicks)}
          {HiddenX()}
          <YAxis {...yAxisBase} domain={[-4.76, 3.42]} ticks={macdTicks} label={axisTitle("MACD", 77)} />
          <Bar dataKey="hist" barSize={4} shape={HistBar} isAnimationActive={false} />
          <ReferenceLine y={0} stroke="#7b7773" strokeWidth={1} />
          <Line dataKey="signal" stroke={EMA50_C} strokeWidth={1.7} dot={false} connectNulls isAnimationActive={false} />
          <Line dataKey="macd" stroke={UP} strokeWidth={1.7} dot={false} connectNulls isAnimationActive={false} />
        </ComposedChart>
      </div>
      <div style={{ position: "absolute", left: 128, top: 729, display: "flex" }}>
        <LegendItem color={UP} label="MACD" />
        <LegendItem color={EMA50_C} label="Signal" />
      </div>

      {/* volume panel: plot 908..1023 */}
      <div style={{ position: "absolute", left: 117, top: 893, fontSize: 11, color: TICK }}>1e8</div>
      <div style={{ position: "absolute", left: 0, top: 898 }}>
        <ComposedChart width={W} height={155} data={volRows} margin={MARGIN}>
          {Grid(volTicks)}
          <XAxis
            type="number"
            dataKey="t"
            domain={X_DOMAIN}
            ticks={monthDays}
            interval={0}
            allowDataOverflow
            height={30}
            tickSize={0}
            tickMargin={8}
            tickLine={false}
            axisLine={{ stroke: SPINE }}
            tick={tickStyle}
            tickFormatter={(v: number) => monthLabels[monthDays.indexOf(v)] || ""}
          />
          <YAxis
            {...yAxisBase}
            domain={[0, 1.036]}
            ticks={volTicks}
            tickFormatter={(v: number) => v.toFixed(1)}
            label={axisTitle("Vol", 74)}
          />
          <Bar dataKey="v" barSize={4} shape={VolBar} isAnimationActive={false} />
          <Line dataKey="vsma" stroke="#908a85" strokeWidth={1.3} dot={false} connectNulls isAnimationActive={false} />
        </ComposedChart>
      </div>
      <div style={{ position: "absolute", left: 126, top: 920, display: "flex" }}>
        <LegendItem color="#908a85" label="Vol SMA20" width={1.5} size={12} />
      </div>
    </div>
  );
}
